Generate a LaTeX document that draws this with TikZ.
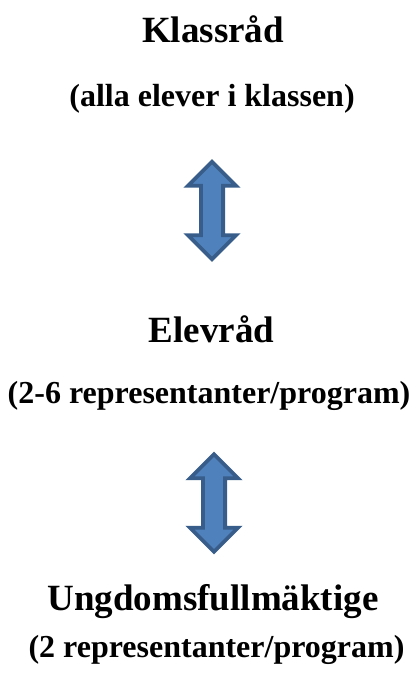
\documentclass[tikz,border=0pt]{standalone}
\usepackage{fontspec}
\setmainfont{Liberation Serif}
\usepackage{tikz}
\usetikzlibrary{calc}

\definecolor{arrowblue}{HTML}{4F81BD}
\definecolor{arrowedge}{HTML}{385D8A}

\begin{document}
\begin{tikzpicture}[x=1pt,y=-1pt]
    \useasboundingbox (0,0) rectangle (416,684);

    \tikzstyle{title} = [anchor=base, inner sep=0pt, font=\bfseries\fontsize{37}{40}\selectfont]
    \tikzstyle{subtitle} = [anchor=base, inner sep=0pt, font=\bfseries\fontsize{32}{36}\selectfont]
    \tikzstyle{arrowbody} = [fill=arrowblue, draw=arrowedge, line width=3.8pt, line join=miter]

    \node[title] (klass) at (213,43) {Klassråd};
    \node[subtitle] (klasssub) at (212,107) {(alla elever i klassen)};
    \node[title] (elev) at (211.5,342) {Elevråd};
    \node[subtitle] (elevsub) at (209,403) {(2-6 representanter/program)};
    \node[title] (ungdom) at (213,610) {Ungdomsfullmäktige};
    \node[subtitle] (ungdomsub) at (216.5,657) {(2 representanter/program)};

    \coordinate (a1) at (212,210.5);
    \coordinate (a2) at (214,503);

    \foreach \a in {a1,a2} {
        \filldraw[arrowbody, shift={(\a)}] (0,-48.8) -- (24.1,-24.7) -- (11.1,-24.7) -- (11.1,24.7)
            -- (24.1,24.7) -- (0,48.8) -- (-24.1,24.7) -- (-11.1,24.7) -- (-11.1,-24.7)
            -- (-24.1,-24.7) -- cycle;
    }
\end{tikzpicture}
\end{document}
